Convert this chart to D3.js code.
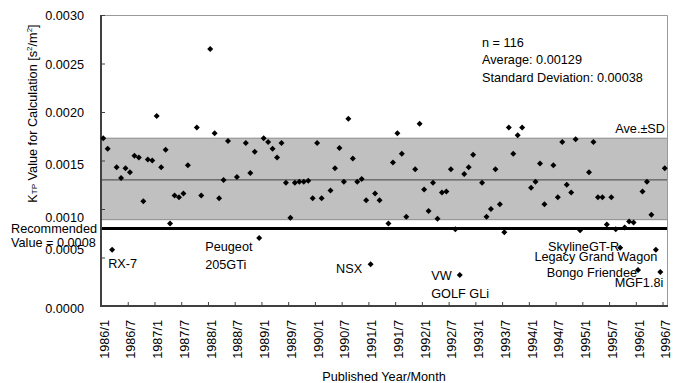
<!DOCTYPE html>
<html>
<head>
<meta charset="utf-8">
<script src="https://cdn.jsdelivr.net/npm/d3@7"></script>
<style>
body { margin: 0; background: #fff; }
text { font-family: "Liberation Sans", Arial, sans-serif; font-size: 12.7px; fill: #000; }
</style>
</head>
<body>
<svg id="chart" width="680" height="383"></svg>
<script>

// published month of each car test, and the Ktp value read for it
var pubMonths = [
"1986/1","1986/2","1986/3","1986/4","1986/5","1986/6","1986/7","1986/8","1986/9","1986/10","1986/11","1986/12",
"1987/1","1987/2","1987/3","1987/4","1987/5","1987/6","1987/7","1987/8","1987/10","1987/11",
"1988/1","1988/2","1988/3","1988/4","1988/5","1988/7","1988/9","1988/10","1988/11","1988/12",
"1989/1","1989/2","1989/3","1989/4","1989/5","1989/6","1989/7","1989/8","1989/9","1989/10","1989/11","1989/12",
"1990/1","1990/2","1990/4","1990/5","1990/6","1990/7","1990/8","1990/9","1990/10","1990/11","1990/12",
"1991/1","1991/2","1991/3","1991/5","1991/6","1991/7","1991/8","1991/9","1991/11","1991/12",
"1992/1","1992/2","1992/3","1992/4","1992/5","1992/6","1992/7","1992/8","1992/9","1992/10","1992/11","1992/12",
"1993/2","1993/3","1993/4","1993/5","1993/6","1993/7","1993/8","1993/9","1993/10","1993/11",
"1994/1","1994/2","1994/3","1994/4","1994/6","1994/7","1994/8","1994/9","1994/10","1994/11","1994/12",
"1995/2","1995/3","1995/4","1995/5","1995/6","1995/7","1995/8","1995/9","1995/10","1995/11","1995/12",
"1996/1","1996/2","1996/3","1996/4","1996/5","1996/6","1996/7"
];

var ktpValues = [
0.00173,0.00162,0.00058,0.00143,0.00132,0.00142,0.00138,0.00155,0.00153,0.00108,0.00151,0.00150,
0.00196,0.00143,0.00161,0.00085,0.00114,0.00112,0.00116,0.00145,0.00184,0.00114,
0.00265,0.00178,0.00111,0.00130,0.00170,0.00133,0.00168,0.00137,0.00159,0.00070,
0.00173,0.00169,0.00162,0.00153,0.00168,0.00127,0.00091,0.00127,0.00128,0.00128,0.00129,0.00111,
0.00168,0.00111,0.00119,0.00142,0.00163,0.00128,0.00193,0.00152,0.00128,0.00131,0.00109,
0.00043,0.00116,0.00109,0.00085,0.00148,0.00178,0.00157,0.00092,0.00141,0.00188,
0.00120,0.00098,0.00127,0.00090,0.00117,0.00118,0.00141,0.00079,0.00032,0.00136,0.00143,0.00156,
0.00127,0.00092,0.00100,0.00141,0.00105,0.00076,0.00184,0.00157,0.00176,0.00184,
0.00122,0.00128,0.00147,0.00105,0.00145,0.00112,0.00169,0.00125,0.00117,0.00172,0.00078,
0.00138,0.00169,0.00112,0.00112,0.00084,0.00112,0.00079,0.00060,0.00081,0.00087,0.00086,
0.00037,0.00118,0.00128,0.00094,0.00058,0.00035,0.00142
];

var xTickLabels = ["1986/1","1986/7","1987/1","1987/7","1988/1","1988/7","1989/1","1989/7","1990/1","1990/7",
  "1991/1","1991/7","1992/1","1992/7","1993/1","1993/7","1994/1","1994/7","1995/1","1995/7","1996/1","1996/7"];
var yTicks = [0, 0.0005, 0.0010, 0.0015, 0.0020, 0.0025, 0.0030];

// reference band / lines
var bandLow = 0.00089, bandHigh = 0.00173, aveValue = 0.00130, recommended = 0.0008;

// named cars (month of the point they belong to)
var noteMonths = ["1986/3", "1988/12", "1991/1", "1992/9", "1995/9", "1996/5", "1996/1", "1996/6"];
var noteTexts = [["RX-7"], ["Peugeot", "205GTi"], ["NSX"], ["VW", "GOLF GLi"], ["SkylineGT-R"],
  ["Legacy Grand Wagon"], ["Bongo Friendee"], ["MGF1.8i"]];

var statLines = ["n = 116", "Average: 0.00129", "Standard Deviation: 0.00038"];

function monthIndex(s){
  var p = s.split('/');
  return (+p[0] - 1986) * 12 + (+p[1] - 1);
}

var svg = d3.select('#chart');
var plotL = 101, plotR = 667, plotT = 15, plotB = 306;

var x = d3.scaleLinear().domain([0, 127]).range([plotL, plotR]);
var y = d3.scaleLinear().domain([0, 0.003]).range([plotB, plotT]);

// band Ave +- SD
svg.append('rect')
  .attr('x', plotL).attr('width', plotR - plotL)
  .attr('y', y(bandHigh)).attr('height', y(bandLow) - y(bandHigh))
  .style('fill', '#c0c0c0');
[bandLow, bandHigh].forEach(function(v){
  svg.append('line')
    .attr('x1', plotL).attr('x2', plotR).attr('y1', y(v)).attr('y2', y(v))
    .style('stroke', '#8c8c8c').style('stroke-width', 1);
});
svg.append('line')
  .attr('x1', plotL).attr('x2', plotR).attr('y1', y(aveValue)).attr('y2', y(aveValue))
  .style('stroke', '#404040').style('stroke-width', 1);
svg.append('line')
  .attr('x1', plotL).attr('x2', plotR).attr('y1', y(recommended)).attr('y2', y(recommended))
  .style('stroke', '#000').style('stroke-width', 3);

// frame
svg.append('path')
  .attr('d', 'M' + plotL + ',' + (plotT + 0.5) + 'H' + (plotR + 0.5) + 'V' + plotB)
  .style('fill', 'none').style('stroke', '#999').style('stroke-width', 1);

// y axis
var yAxis = svg.append('g').attr('transform', 'translate(' + plotL + ',0)')
  .call(d3.axisLeft(y).tickValues(yTicks).tickSize(-4).tickFormat(''));
yAxis.select('.domain').remove();
yAxis.selectAll('line').style('stroke', '#404040');

// Excel moved a few labels a bit off their ticks
var labelNudge = {"0.0015": 4.5, "0.0010": 9, "0.0005": -7.5, "0.0000": 3};
svg.selectAll('.ylab').data(yTicks).enter().append('text')
  .attr('class', 'ylab')
  .attr('x', 84)
  .attr('y', function(d){ return y(d) + (labelNudge[d3.format('.4f')(d)] || 1); })
  .attr('dy', '0.35em')
  .attr('text-anchor', 'end')
  .text(d3.format('.4f'));

// x axis
var xAxis = svg.append('g').attr('transform', 'translate(0,' + (plotB + 1) + ')')
  .call(d3.axisBottom(x).tickValues(xTickLabels.map(monthIndex)).tickSize(-5).tickFormat(''));
xAxis.select('.domain').remove();
xAxis.selectAll('line').style('stroke', '#404040');

svg.selectAll('.xlab').data(xTickLabels).enter().append('text')
  .attr('class', 'xlab')
  .attr('transform', function(d){ return 'translate(' + (x(monthIndex(d) + 0.5) + 5.5) + ',320) rotate(-90)'; })
  .attr('text-anchor', 'end')
  .text(function(d){ return d; });

// axis lines
svg.append('path')
  .attr('d', 'M' + plotL + ',' + plotT + 'V' + plotB + 'H' + (plotR + 1))
  .style('fill', 'none').style('stroke', '#404040').style('stroke-width', 2);

// points
var pts = pubMonths.map(function(m, i){ return {m: monthIndex(m), v: ktpValues[i]}; });
svg.selectAll('.pt').data(pts).enter().append('path')
  .attr('class', 'pt')
  .attr('d', d3.symbol().type(d3.symbolSquare).size(18))
  .attr('transform', function(d){ return 'translate(' + x(d.m + 0.5) + ',' + y(d.v) + ') rotate(45)'; })
  .style('fill', '#000');

// car names, placed relative to their point
var notePlace = [
  {dx: -4,   dy: 18,  anchor: 'start'},
  {dx: -54,  dy: 13,  anchor: 'start'},
  {dx: -8.5, dy: 8.5, anchor: 'end'},
  {dx: -28.5,dy: 5.5, anchor: 'start'},
  {dx: -1,   dy: 3.5, anchor: 'end'},
  {dx: 1.5,  dy: 11,  anchor: 'end'},
  {dx: -1,   dy: 6.5, anchor: 'end'},
  {dx: 3,    dy: 15,  anchor: 'end'}
];
noteMonths.forEach(function(m, i){
  var k = pubMonths.indexOf(m);
  var px = x(monthIndex(m) + 0.5), py = y(ktpValues[k]);
  var p = notePlace[i];
  noteTexts[i].forEach(function(t, j){
    svg.append('text')
      .attr('x', px + p.dx).attr('y', py + p.dy + j * 17.5)
      .attr('text-anchor', p.anchor)
      .text(t);
  });
});

// stats
svg.selectAll('.stat').data(statLines).enter().append('text')
  .attr('class', 'stat')
  .attr('x', 482)
  .attr('y', function(d, i){ return 46.5 + i * 17.5; })
  .text(function(d){ return d; });

svg.append('text').attr('x', 665).attr('y', y(bandHigh) - 5)
  .attr('text-anchor', 'end').text('Ave.±SD');

svg.append('text').attr('x', 11).attr('y', 233).text('Recommended');
svg.append('text').attr('x', 11).attr('y', 247).text('Value = ' + recommended.toFixed(4));

// axis titles
svg.append('text').attr('x', 384).attr('y', 381).attr('text-anchor', 'middle')
  .text('Published Year/Month');

var yt = svg.append('text')
  .attr('transform', 'translate(37,113.5) rotate(-90)')
  .attr('text-anchor', 'middle');
yt.append('tspan').text('K');
yt.append('tspan').style('font-size', '8px').text('TP');
yt.append('tspan').text(' Value for Calculation [s');
yt.append('tspan').attr('dy', -5).style('font-size', '8px').text('2');
yt.append('tspan').attr('dy', 5).text('/m');
yt.append('tspan').attr('dy', -5).style('font-size', '8px').text('2');
yt.append('tspan').attr('dy', 5).text(']');

</script>
</body>
</html>
